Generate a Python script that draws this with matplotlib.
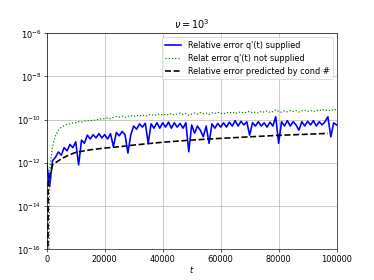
import numpy as np
import matplotlib
matplotlib.use('Agg')
import matplotlib.pyplot as plt

# time grid for the two measured curves (step 1000)
t_meas = np.arange(0, 100001, 1000)

# log10 of relative error, q'(t) supplied
blue_exp = [
    -12.0, -13.1, -11.9, -11.75, -11.5, -11.65, -11.3, -11.45, -11.15, -11.3,
    -11.03, -12.1, -10.95, -11.1, -10.72, -10.9, -10.7, -10.85, -10.65, -10.85,
    -10.7, -10.9, -10.65, -11.26, -10.6, -10.75, -10.55, -10.7, -11.55, -10.7,
    -10.3, -10.45, -10.2, -10.35, -10.17, -11.1, -10.2, -10.4, -10.15, -10.4,
    -10.15, -10.35, -10.12, -10.4, -10.15, -10.35, -10.18, -10.4, -10.15, -11.49,
    -10.25, -10.63, -10.3, -10.5, -10.8, -10.3, -11.1, -10.2, -10.4, -10.18,
    -10.35, -10.15, -10.35, -10.12, -10.3, -10.05, -10.3, -10.08, -10.25, -10.1,
    -10.72, -10.15, -10.3, -10.1, -10.3, -10.15, -10.35, -10.12, -10.3, -9.87,
    -11.1, -10.1, -10.3, -10.05, -10.3, -10.1, -10.25, -10.49, -10.1, -10.3,
    -10.08, -10.25, -10.05, -10.3, -10.1, -10.25, -10.1, -9.87, -10.8, -10.15,
    -10.25,
]

# log10 of relative error, q'(t) not supplied (first point ~ 0)
green_exp = [
    -30, -12.3, -11.25, -10.75, -10.5, -10.36, -10.28, -10.22, -10.2, -10.15,
    -10.14, -10.1, -10.12, -10.07, -10.06, -10.04, -10.06, -9.99, -10.0, -9.96,
    -9.95, -9.92, -9.96, -9.9, -9.86, -9.88, -9.84, -9.9, -9.85, -9.82,
    -9.86, -9.8, -9.84, -9.78, -9.85, -9.8, -9.76, -9.82, -9.77, -9.74,
    -9.8, -9.75, -9.78, -9.72, -9.79, -9.74, -9.7, -9.76, -9.72, -9.8,
    -9.74, -9.7, -9.75, -9.68, -9.73, -9.7, -9.76, -9.69, -9.72, -9.66,
    -9.71, -9.74, -9.67, -9.7, -9.65, -9.72, -9.68, -9.64, -9.7, -9.66,
    -9.62, -9.69, -9.65, -9.7, -9.62, -9.66, -9.6, -9.67, -9.63, -9.55,
    -9.62, -9.66, -9.6, -9.64, -9.58, -9.63, -9.59, -9.65, -9.6, -9.56,
    -9.62, -9.58, -9.63, -9.57, -9.6, -9.53, -9.58, -9.55, -9.6, -9.52,
    -9.56,
]

# predicted by condition number
t_cond = [0, 500, 1000, 2000, 3000, 5000, 7500, 10000, 15000, 20000, 25000,
          30000, 40000, 50000, 60000, 70000, 80000, 90000, 97000]
cond_exp = [-30, -12.9, -12.6, -12.1, -12.0, -11.82, -11.65, -11.52, -11.4,
            -11.32, -11.26, -11.18, -11.05, -10.95, -10.87, -10.8, -10.73,
            -10.68, -10.64]

blue = 10.0 ** np.array(blue_exp)
green = 10.0 ** np.array(green_exp)
cond = 10.0 ** np.array(cond_exp)

DPI = 374 / 6.4
fig = plt.figure(figsize=(6.4, 4.8), dpi=DPI)
plt.semilogy(t_meas, blue, 'b-', lw=2, label="Relative error q'(t) supplied")
plt.semilogy(t_meas, green, 'g:', lw=1.5, label="Relat error q'(t) not supplied")
plt.semilogy(t_cond, cond, 'k--', lw=2, label='Relative error predicted by cond #')
plt.ylim(1e-16, 1e-6)
plt.xlim(0, 100000)
plt.grid(True)
plt.legend(loc='upper right')
plt.title(r'$\nu = 10^3$')
plt.xlabel('$t$', labelpad=-1)
plt.savefig('out.png', dpi=DPI)
